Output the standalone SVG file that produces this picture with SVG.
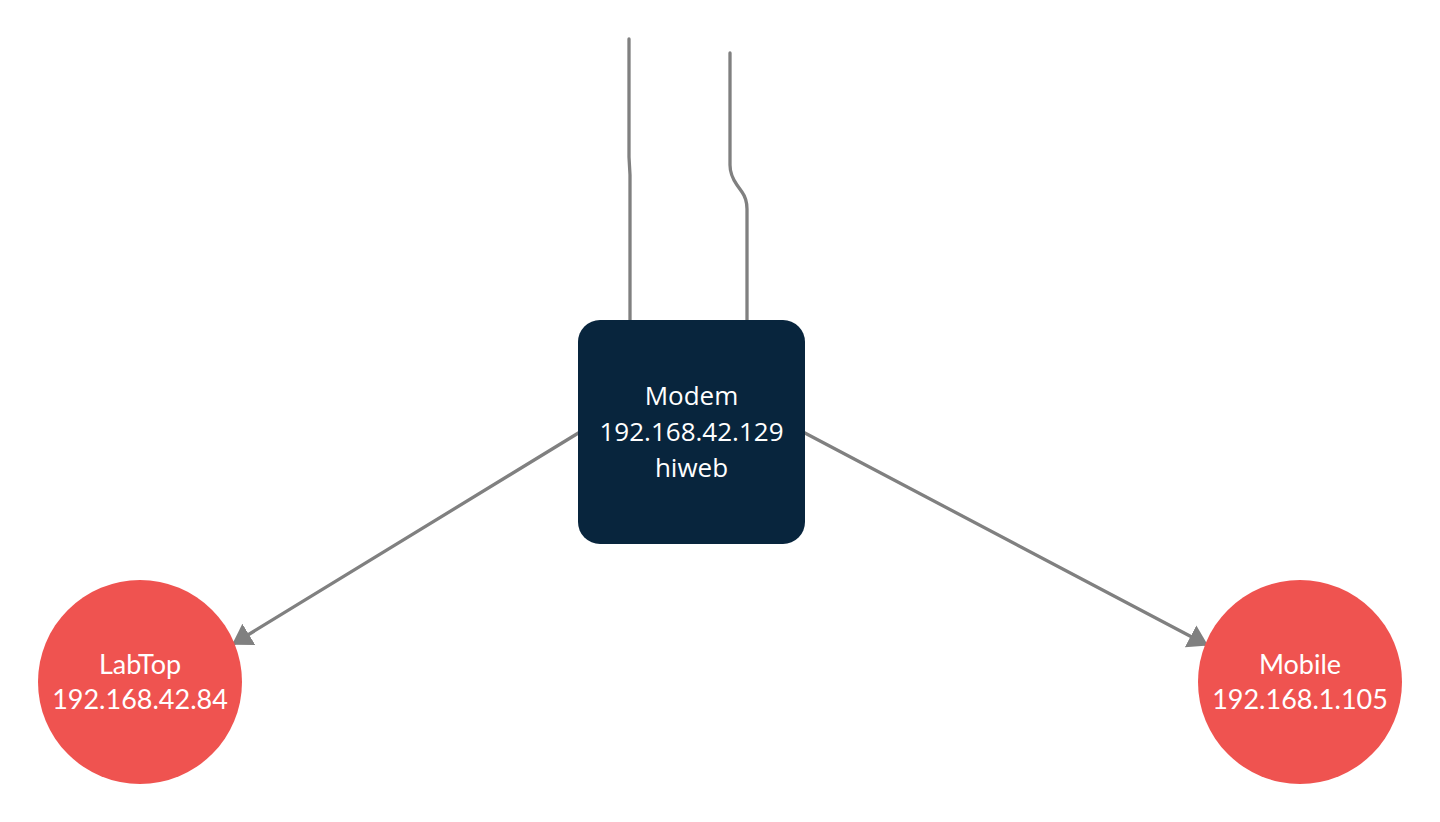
<svg xmlns="http://www.w3.org/2000/svg" width="1440" height="822" viewBox="0 0 1440 822">
<style>
.edge{fill:none;stroke:#808080;stroke-width:3.3;stroke-linecap:round;stroke-linejoin:round}
.box{fill:#08253d}
.circ{fill:#ef5350}
.t1{font-family:"Open Sans","Noto Sans",sans-serif;font-size:26px;fill:#ffffff;text-anchor:middle}
.t2{font-family:Lato,"Liberation Sans",sans-serif;font-size:27px;fill:#ffffff;text-anchor:middle}
</style>
<defs>
<marker id="arr" viewBox="0 0 8 10" refX="7.5" refY="5" markerWidth="6" markerHeight="7.5" markerUnits="strokeWidth" orient="auto">
<path d="M0,0 L8,5 L0,10 Z" fill="#808080"/>
</marker>
</defs>
<rect width="1440" height="822" fill="#ffffff"/>
<g id="connectors">
<path class="edge" d="M629,39 L629,157 L630,175 L630,322"/>
<path class="edge" d="M730,53 L730,165 Q730,175 737,185 L742,192 Q747,199 747,209 L747,322"/>
<path class="edge" d="M580,432 L233,644" marker-end="url(#arr)"/>
<path class="edge" d="M803,432 L1207,645" marker-end="url(#arr)"/>
</g>
<g id="modem">
<rect class="box" x="578" y="320" width="227" height="224" rx="22"/>
<text class="t1" x="691.5" y="405">Modem</text>
<text class="t1" x="691.5" y="441">192.168.42.129</text>
<text class="t1" x="691.5" y="477">hiweb</text>
</g>
<g id="labtop">
<circle class="circ" cx="140" cy="682" r="102"/>
<text class="t2" x="140" y="674">LabTop</text>
<text class="t2" x="140" y="709">192.168.42.84</text>
</g>
<g id="mobile">
<circle class="circ" cx="1300" cy="682" r="102"/>
<text class="t2" x="1300" y="674">Mobile</text>
<text class="t2" x="1300" y="709">192.168.1.105</text>
</g>
</svg>
